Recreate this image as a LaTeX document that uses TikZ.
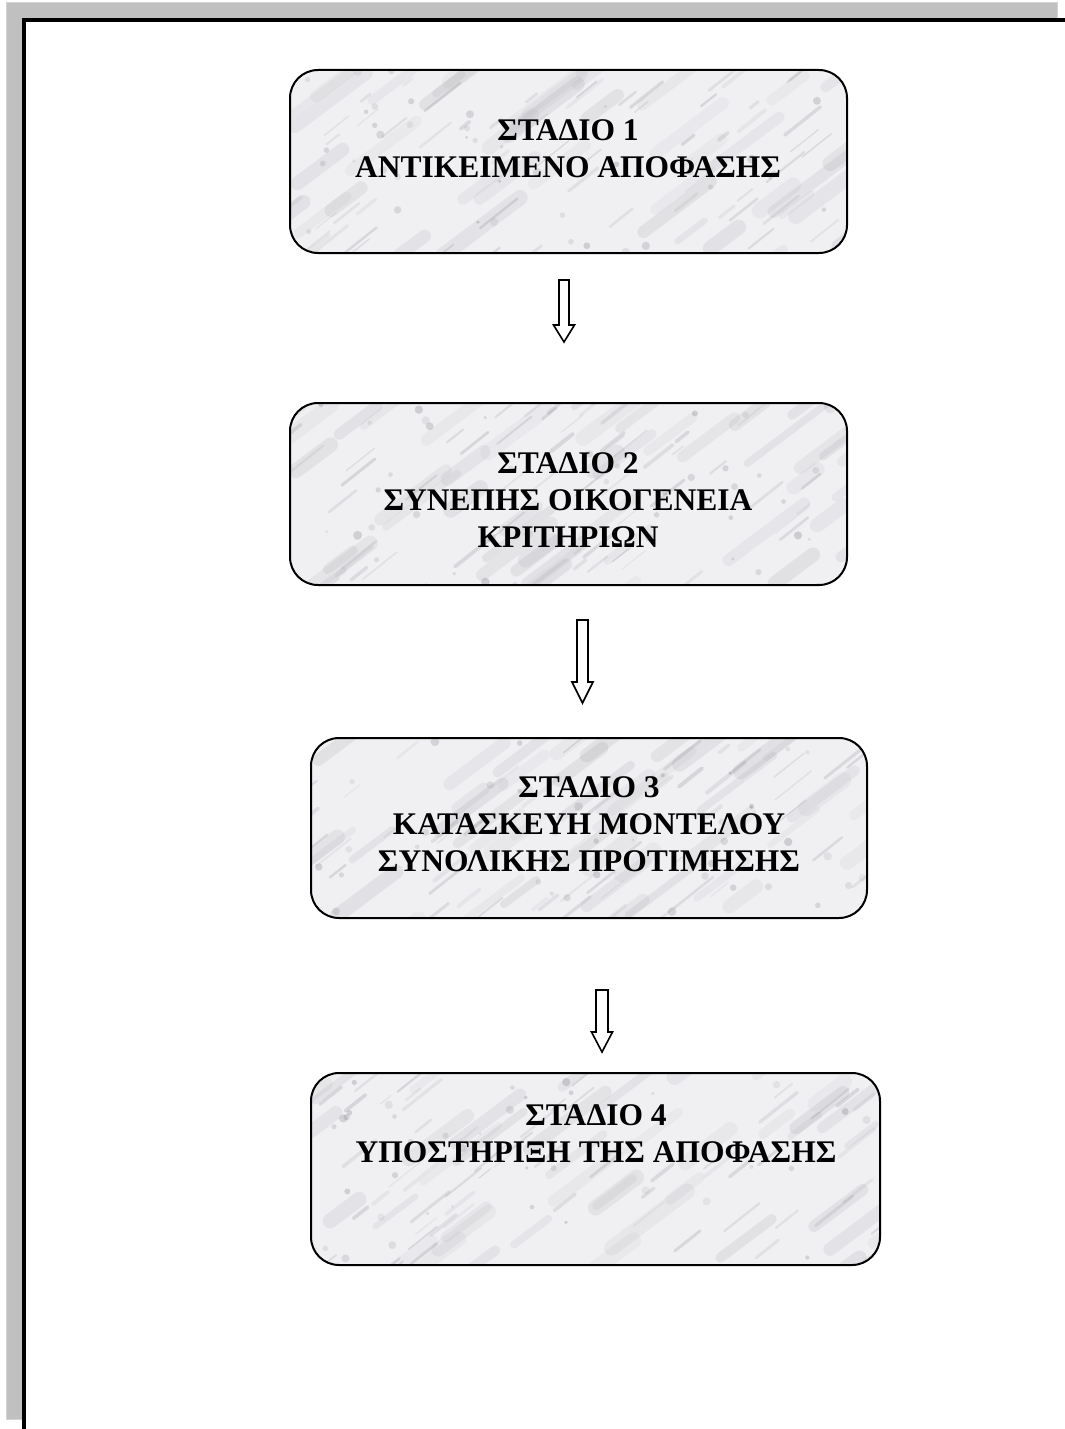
\documentclass[tikz,border=0pt]{standalone}
\usepackage{fontspec}
\setmainfont{Liberation Serif}
\usetikzlibrary{calc,fit}
\definecolor{bandgray}{HTML}{C0C0C0}
\definecolor{bandedge}{HTML}{D4D4D4}
\definecolor{marblebase}{HTML}{F0F0F3}
\definecolor{veingray}{HTML}{7A7A82}
\tikzset{
  stagebox/.style={draw=black, line width=2pt, rounded corners=28pt, inner sep=0pt},
  stagetext/.style={anchor=north, align=center, inner sep=0pt,
    font=\bfseries\fontsize{31.5}{37}\selectfont},
  hollow/.style={draw=black, line width=1.6pt, fill=white, line join=miter},
}
% #1 name, #2 x1, #3 y1, #4 x2, #5 y2
\newcommand\stagebg[5]{%
  \begin{scope}
    \clip[rounded corners=28pt] (#2,#3) rectangle (#4,#5);
    \fill[marblebase] (#2,#3) rectangle (#4,#5);
    % soft wide veins
    \foreach \k in {1,...,45}{
      \pgfmathsetmacro\mkx{#2-40+(#4-#2+40)*rnd}
      \pgfmathsetmacro\mky{#3+(#5-#3+40)*rnd}
      \pgfmathsetmacro\mkl{30+70*rnd}
      \pgfmathsetmacro\mkw{6+10*rnd}
      \pgfmathsetmacro\mko{0.05+0.08*rnd}
      \draw[veingray, opacity=\mko, line width=\mkw pt, line cap=round]
        (\mkx,\mky) -- ++(\mkl*0.8,-\mkl*0.6);
    }
    % thin darker veins
    \foreach \k in {1,...,60}{
      \pgfmathsetmacro\mkx{#2-30+(#4-#2+30)*rnd}
      \pgfmathsetmacro\mky{#3+(#5-#3+30)*rnd}
      \pgfmathsetmacro\mkl{10+40*rnd}
      \pgfmathsetmacro\mkw{1+3*rnd}
      \pgfmathsetmacro\mko{0.07+0.15*rnd}
      \draw[veingray, opacity=\mko, line width=\mkw pt, line cap=round]
        (\mkx,\mky) -- ++(\mkl*0.78,-\mkl*0.62);
    }
    % small specks
    \foreach \k in {1,...,40}{
      \pgfmathsetmacro\mkx{#2+(#4-#2)*rnd}
      \pgfmathsetmacro\mky{#3+(#5-#3)*rnd}
      \pgfmathsetmacro\mkw{1.5+3*rnd}
      \pgfmathsetmacro\mko{0.10+0.2*rnd}
      \fill[veingray, opacity=\mko] (\mkx,\mky) circle (\mkw pt);
    }
  \end{scope}
  \node[stagebox, fit={(#2,#3) (#4,#5)}] (#1) {};
}
% #1 x, #2 top, #3 tip, #4 head length, #5 shaft half width, #6 head half width
\newcommand\hollowarrow[6]{%
  \draw[hollow] ({#1-#5},#2) -- ({#1+#5},#2) -- ({#1+#5},{#3-#4}) -- ({#1+#6},{#3-#4})
    -- (#1,#3) -- ({#1-#6},{#3-#4}) -- ({#1-#5},{#3-#4}) -- cycle;
}
\begin{document}
\begin{tikzpicture}[x=1pt,y=-1pt]
\pgfmathsetseed{7}
\useasboundingbox (0,0) rectangle (1065,1429);
\fill[white] (0,0) rectangle (1065,1429);
% page shadow band
\fill[bandgray] (6,2) rectangle (1058,1420);
\draw[bandedge, line width=1pt] (6.5,2.5) rectangle (1057.5,1419.5);
\fill[white] (22,18) rectangle (1065,1429);
\fill[black] (22,18) rectangle (1065,22);
\fill[black] (22,18) rectangle (26,1429);

% stage boxes
\stagebg{s1}{290}{70}{847}{253}
\stagebg{s2}{290}{403}{847}{585}
\stagebg{s3}{311}{738}{867}{918}
\stagebg{s4}{311}{1073}{880}{1265}

\node[stagetext] (t1) at (568,119) {ΣΤΑΔΙΟ 1\\ΑΝΤΙΚΕΙΜΕΝΟ ΑΠΟΦΑΣΗΣ};
\node[stagetext] (t2) at (568,452) {ΣΤΑΔΙΟ 2\\ΣΥΝΕΠΗΣ ΟΙΚΟΓΕΝΕΙΑ\\ΚΡΙΤΗΡΙΩΝ};
\node[stagetext] (t3) at (589,776) {ΣΤΑΔΙΟ 3\\ΚΑΤΑΣΚΕΥΗ ΜΟΝΤΕΛΟΥ\\ΣΥΝΟΛΙΚΗΣ ΠΡΟΤΙΜΗΣΗΣ};
\node[stagetext] (t4) at (596,1104) {ΣΤΑΔΙΟ 4\\ΥΠΟΣΤΗΡΙΞΗ ΤΗΣ ΑΠΟΦΑΣΗΣ};

% hollow arrows between stages
\hollowarrow{564}{280}{342}{17}{5}{10.5}
\hollowarrow{582.5}{620}{703}{21}{5.5}{10.5}
\hollowarrow{602}{990}{1052}{20}{6}{10.5}
\end{tikzpicture}
\end{document}
